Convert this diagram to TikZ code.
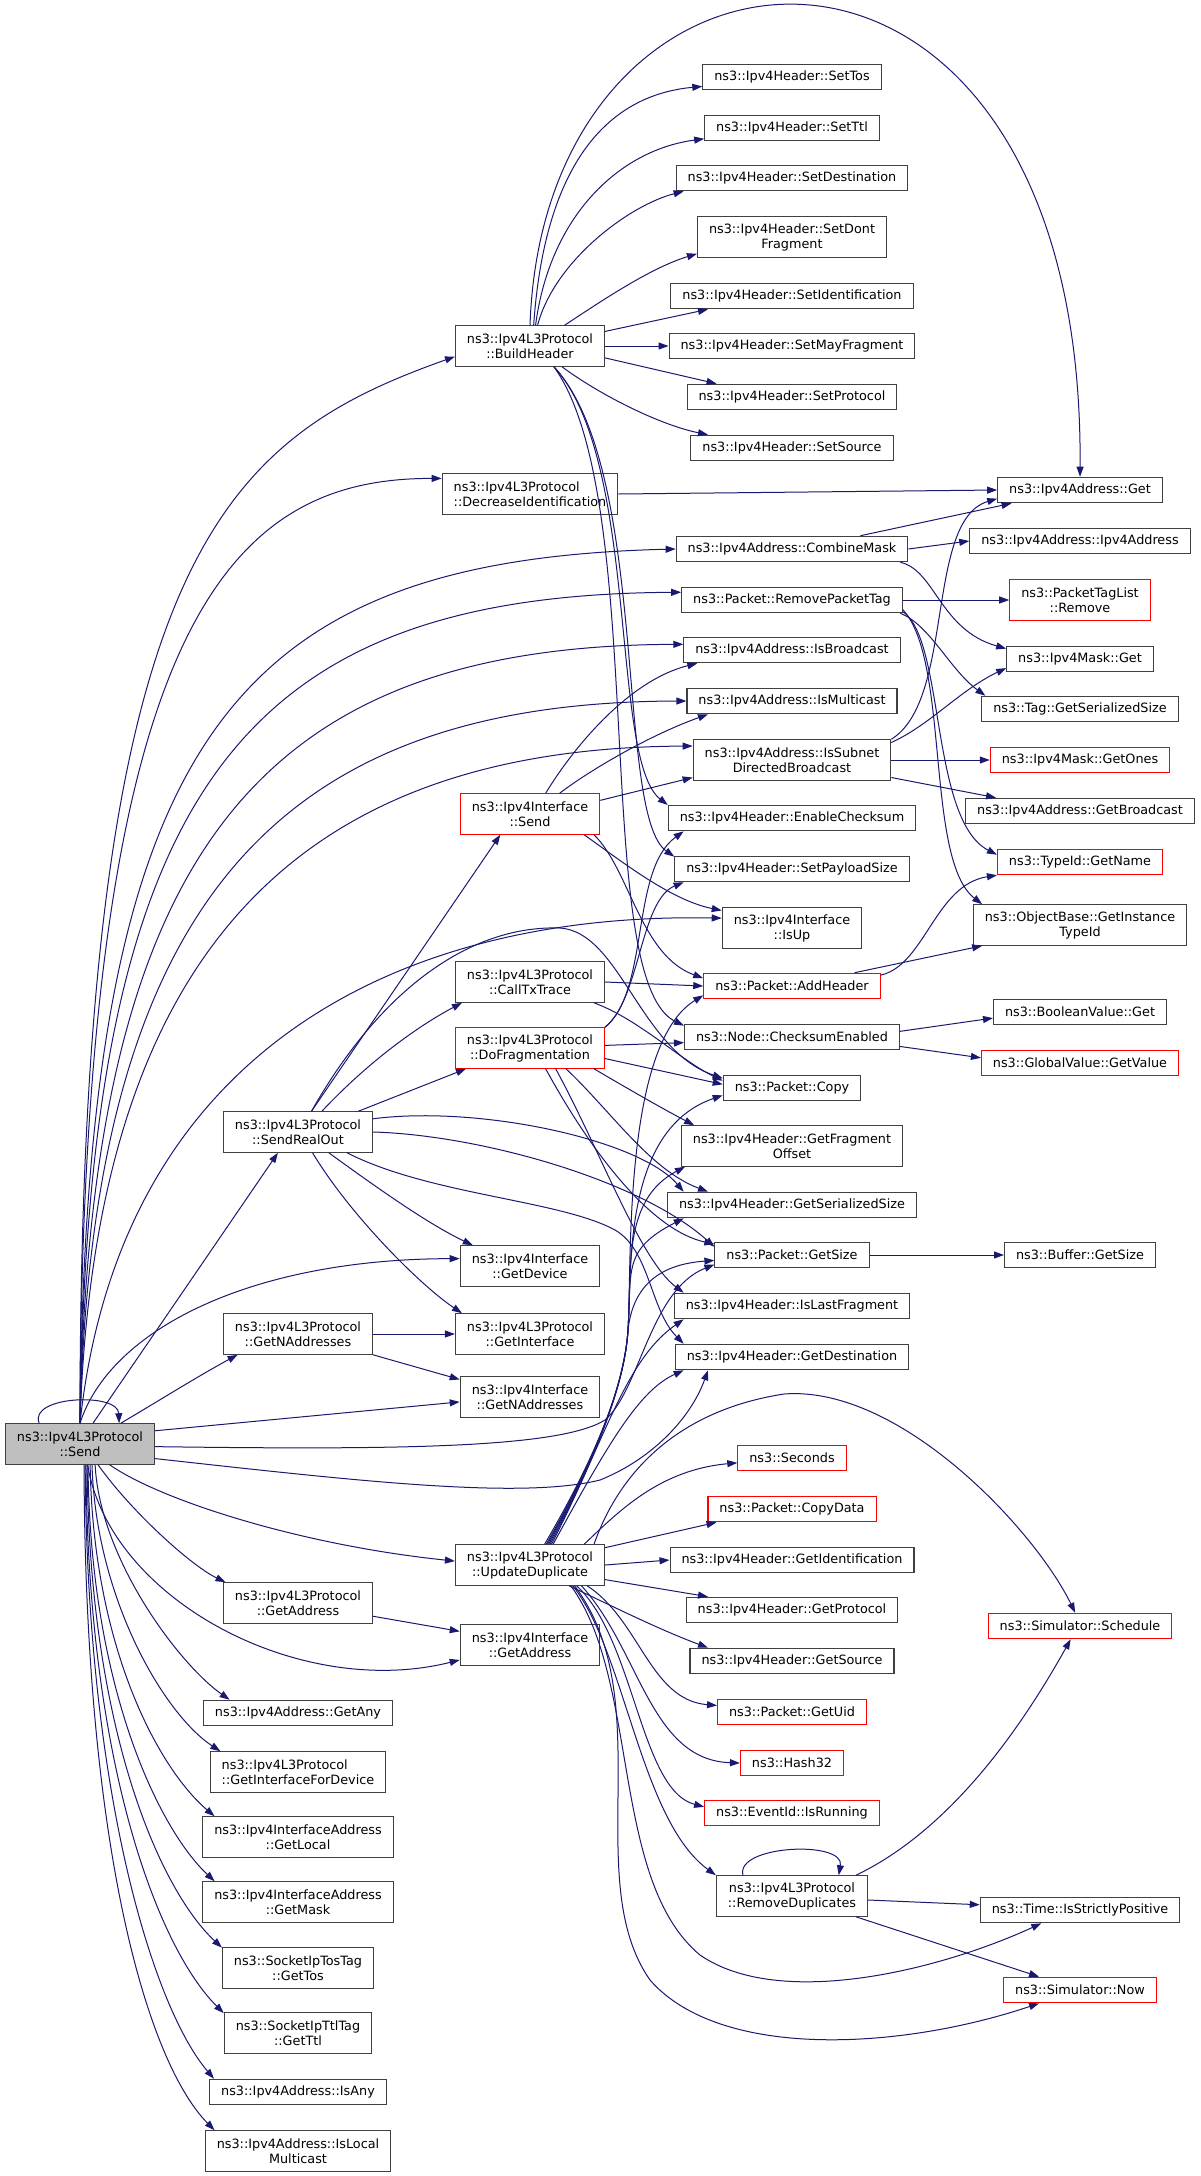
\documentclass[tikz,border=0pt]{standalone}
\usepackage{fontspec}
\usepackage{tikz}
\usetikzlibrary{arrows.meta}
\newfontfamily\dxfont{DejaVu Sans}
\definecolor{edgeblue}{RGB}{25,25,112}

\begin{document}
\begin{tikzpicture}[x=1pt,y=-1pt,
    fnbox/.style={draw=black!75, line width=1.1pt, fill=white, inner xsep=11.5pt, inner ysep=2pt,
      minimum height=25.5pt, align=center, font=\dxfont\fontsize{12.8}{15}\selectfont},
    twoline/.style={minimum height=40.5pt},
    cutbox/.style={fnbox, draw=red},
    rootbox/.style={fnbox, fill=black!25},
    call/.style={draw=edgeblue, line width=1pt, -{Triangle[length=10pt,width=7pt]}}]
\fill[white] (0,0) rectangle (1200,2176);
\useasboundingbox (0,0) rectangle (1200,2176);

% Caller
\node[rootbox, twoline] (send) at (80,1444) {ns3::Ipv4L3Protocol\\::Send};

% Column 2
\node[fnbox, twoline] (sendreal) at (298,1132) {ns3::Ipv4L3Protocol\\::SendRealOut};
\node[fnbox, twoline] (getnaddr) at (298,1334) {ns3::Ipv4L3Protocol\\::GetNAddresses};
\node[fnbox, twoline] (getaddr) at (298,1603) {ns3::Ipv4L3Protocol\\::GetAddress};
\node[fnbox] (getany) at (298,1713) {ns3::Ipv4Address::GetAny};
\node[fnbox, twoline, align=left] (ifacedev) at (298,1772) {ns3::Ipv4L3Protocol\\::GetInterfaceForDevice};
\node[fnbox, twoline] (getlocal) at (298,1837) {ns3::Ipv4InterfaceAddress\\::GetLocal};
\node[fnbox, twoline] (getmask) at (298,1902) {ns3::Ipv4InterfaceAddress\\::GetMask};
\node[fnbox, twoline] (gettos) at (298,1968) {ns3::SocketIpTosTag\\::GetTos};
\node[fnbox, twoline] (getttl) at (298,2033) {ns3::SocketIpTtlTag\\::GetTtl};
\node[fnbox] (isany) at (298,2092) {ns3::Ipv4Address::IsAny};
\node[fnbox, twoline] (islocal) at (298,2151) {ns3::Ipv4Address::IsLocal\\Multicast};

% Column 3
\node[fnbox, twoline] (buildhdr) at (530,346) {ns3::Ipv4L3Protocol\\::BuildHeader};
\node[fnbox, twoline, align=left] (decrid) at (530,494) {ns3::Ipv4L3Protocol\\::DecreaseIdentification};
\node[cutbox, twoline] (ifsend) at (530,814) {ns3::Ipv4Interface\\::Send};
\node[fnbox, twoline] (calltx) at (530,982) {ns3::Ipv4L3Protocol\\::CallTxTrace};
\node[cutbox, twoline] (dofrag) at (530,1048) {ns3::Ipv4L3Protocol\\::DoFragmentation};
\node[fnbox, twoline] (ifdev) at (530,1266) {ns3::Ipv4Interface\\::GetDevice};
\node[fnbox, twoline] (getiface) at (530,1334) {ns3::Ipv4L3Protocol\\::GetInterface};
\node[fnbox, twoline] (ifnaddr) at (530,1397) {ns3::Ipv4Interface\\::GetNAddresses};
\node[fnbox, twoline] (update) at (530,1565) {ns3::Ipv4L3Protocol\\::UpdateDuplicate};
\node[fnbox, twoline] (ifaddr) at (530,1645) {ns3::Ipv4Interface\\::GetAddress};

% Column 4
\node[fnbox] (settos) at (792,77) {ns3::Ipv4Header::SetTos};
\node[fnbox] (setttl) at (792,128) {ns3::Ipv4Header::SetTtl};
\node[fnbox] (setdest) at (792,178) {ns3::Ipv4Header::SetDestination};
\node[fnbox, twoline] (setdf) at (792,237) {ns3::Ipv4Header::SetDont\\Fragment};
\node[fnbox] (setid) at (792,296) {ns3::Ipv4Header::SetIdentification};
\node[fnbox] (setmf) at (792,346) {ns3::Ipv4Header::SetMayFragment};
\node[fnbox] (setproto) at (792,397) {ns3::Ipv4Header::SetProtocol};
\node[fnbox] (setsrc) at (792,448) {ns3::Ipv4Header::SetSource};
\node[fnbox] (combmask) at (792,549) {ns3::Ipv4Address::CombineMask};
\node[fnbox] (rmtag) at (792,600) {ns3::Packet::RemovePacketTag};
\node[fnbox] (isbcast) at (792,650) {ns3::Ipv4Address::IsBroadcast};
\node[fnbox] (ismcast) at (792,701) {ns3::Ipv4Address::IsMulticast};
\node[fnbox, twoline] (issubnet) at (792,760) {ns3::Ipv4Address::IsSubnet\\DirectedBroadcast};
\node[fnbox] (enchk) at (792,818) {ns3::Ipv4Header::EnableChecksum};
\node[fnbox] (setplen) at (792,869) {ns3::Ipv4Header::SetPayloadSize};
\node[fnbox, twoline] (isup) at (792,928) {ns3::Ipv4Interface\\::IsUp};
\node[cutbox] (addhdr) at (792,986) {ns3::Packet::AddHeader};
\node[fnbox] (chkon) at (792,1037) {ns3::Node::ChecksumEnabled};
\node[fnbox] (copy) at (792,1088) {ns3::Packet::Copy};
\node[fnbox, twoline] (fragoff) at (792,1146) {ns3::Ipv4Header::GetFragment\\Offset};
\node[fnbox] (sersize) at (792,1205) {ns3::Ipv4Header::GetSerializedSize};
\node[fnbox] (pktsize) at (792,1255) {ns3::Packet::GetSize};
\node[fnbox] (lastfrag) at (792,1306) {ns3::Ipv4Header::IsLastFragment};
\node[fnbox] (getdest) at (792,1357) {ns3::Ipv4Header::GetDestination};
\node[cutbox] (seconds) at (792,1458) {ns3::Seconds};
\node[cutbox] (copydata) at (792,1509) {ns3::Packet::CopyData};
\node[fnbox] (getid) at (792,1560) {ns3::Ipv4Header::GetIdentification};
\node[fnbox] (getproto) at (792,1610) {ns3::Ipv4Header::GetProtocol};
\node[fnbox] (getsrc) at (792,1661) {ns3::Ipv4Header::GetSource};
\node[cutbox] (getuid) at (792,1712) {ns3::Packet::GetUid};
\node[cutbox] (hash) at (792,1763) {ns3::Hash32};
\node[cutbox] (isrun) at (792,1813) {ns3::EventId::IsRunning};
\node[fnbox, twoline] (rmdup) at (792,1896) {ns3::Ipv4L3Protocol\\::RemoveDuplicates};

% Column 5
\node[fnbox] (addrget) at (1080,490) {ns3::Ipv4Address::Get};
\node[fnbox] (addrctor) at (1080,541) {ns3::Ipv4Address::Ipv4Address};
\node[cutbox, twoline] (tagrm) at (1080,600) {ns3::PacketTagList\\::Remove};
\node[fnbox] (maskget) at (1080,659) {ns3::Ipv4Mask::Get};
\node[fnbox] (taglen) at (1080,709) {ns3::Tag::GetSerializedSize};
\node[cutbox] (maskones) at (1080,760) {ns3::Ipv4Mask::GetOnes};
\node[fnbox] (getbcast) at (1080,811) {ns3::Ipv4Address::GetBroadcast};
\node[cutbox] (typename) at (1080,862) {ns3::TypeId::GetName};
\node[fnbox, twoline] (insttype) at (1080,925) {ns3::ObjectBase::GetInstance\\TypeId};
\node[fnbox] (boolget) at (1080,1012) {ns3::BooleanValue::Get};
\node[cutbox] (globget) at (1080,1063) {ns3::GlobalValue::GetValue};
\node[fnbox] (bufsize) at (1080,1255) {ns3::Buffer::GetSize};
\node[cutbox] (sched) at (1080,1626) {ns3::Simulator::Schedule};
\node[fnbox] (positive) at (1080,1910) {ns3::Time::IsStrictlyPositive};
\node[cutbox] (now) at (1080,1990) {ns3::Simulator::Now};

% Send: calls upwards
\draw[call] (send.153) .. controls (28,1396) and (118,1392) .. (send.28);
\draw[call] (send.north) .. controls (80,560) and (220,440) .. (buildhdr.188);
\draw[call] (send.north) .. controls (82,620) and (230,478) .. (decrid.170);
\draw[call] (send.north) .. controls (86,740) and (230,560) .. (combmask.west);
\draw[call] (send.north) .. controls (88,790) and (240,595) .. (rmtag.176);
\draw[call] (send.north) .. controls (90,850) and (260,646) .. (isbcast.177);
\draw[call] (send.north) .. controls (92,900) and (280,702) .. (ismcast.west);
\draw[call] (send.north) .. controls (95,950) and (300,748) .. (issubnet.172);
\draw[call] (send.north) .. controls (120,1050) and (400,912) .. (isup.172);
\draw[call] (send.north) .. controls (110,1330) and (250,1259) .. (ifdev.174);
\draw[call] (send.58) -- (sendreal.226);
\draw[call] (send.27) .. controls (160,1400) and (200,1375) .. (getnaddr.199);
% Send: calls to the right
\draw[call] (send.10) -- (ifnaddr.184);
\draw[call] (send.-2) .. controls (400,1450) and (560,1448) .. (605,1420)
  .. controls (640,1390) and (650,1290) .. (pktsize.187);
\draw[call] (send.-11) .. controls (350,1480) and (520,1500) .. (600,1480)
  .. controls (650,1460) and (690,1420) .. (getdest.189);
\draw[call] (send.-35) .. controls (160,1500) and (300,1545) .. (update.177);
\draw[call] (send.-49) .. controls (130,1510) and (190,1565) .. (getaddr.164);
\draw[call] (send.-70) .. controls (110,1600) and (300,1700) .. (ifaddr.192);
% Send: calls downwards
\foreach \dst/\out/\ax/\ay/\bx/\by/\in in {
    getany/-54/100/1560/180/1665/169,
    ifacedev/-60/96/1600/165/1715/165,
    getlocal/-64/93/1650/160/1770/166,
    getmask/-69/90/1690/160/1830/166,
    gettos/-71/89/1730/160/1890/165,
    getttl/-74/88/1770/160/1950/165,
    isany/-76/87/1800/155/2010/171,
    islocal/-79/85/1860/150/2065/166}
  \draw[call] (send.\out) .. controls (\ax,\ay) and (\bx,\by) .. (\dst.\in);

% BuildHeader
\draw[call] (buildhdr.north) .. controls (545,-110) and (1085,-140) .. (addrget.north);
\draw[call] (buildhdr.80) .. controls (545,160) and (610,95) .. (settos.186);
\draw[call] (buildhdr.75) .. controls (550,215) and (620,150) .. (setttl.187);
\draw[call] (buildhdr.70) .. controls (555,260) and (630,205) .. (setdest.187);
\draw[call] (buildhdr.31) .. controls (600,302) and (650,268) .. (setdf.190);
\draw[call] (buildhdr.11) -- (setid.189);
\draw[call] (buildhdr.east) -- (setmf.west);
\draw[call] (buildhdr.-9) -- (setproto.170);
\draw[call] (buildhdr.-33) .. controls (600,395) and (660,425) .. (setsrc.171);
\draw[call] (buildhdr.-41) .. controls (640,460) and (610,760) .. (enchk.174);
\draw[call] (buildhdr.-41) .. controls (650,470) and (615,815) .. (setplen.174);
\draw[call] (buildhdr.-41) .. controls (650,500) and (590,980) .. (chkon.174);

% DecreaseIdentification, CombineMask, RemovePacketTag
\draw[call] (decrid.east) -- (addrget.west);
\draw[call] (combmask.east) -- (addrctor.west);
\draw[call] (combmask.11) -- (addrget.191);
\draw[call] (combmask.-7) .. controls (935,570) and (940,630) .. (maskget.172);
\draw[call] (rmtag.east) -- (tagrm.west);
\draw[call] (rmtag.-7) .. controls (930,625) and (950,670) .. (taglen.172);
\draw[call] (rmtag.-6) .. controls (945,640) and (930,820) .. (typename.175);
\draw[call] (rmtag.-5) .. controls (950,660) and (925,860) .. (insttype.168);

% IsSubnetDirectedBroadcast
\draw[call] (issubnet.east) -- (maskones.west);
\draw[call] (issubnet.-10) -- (getbcast.171);
\draw[call] (issubnet.10) .. controls (930,725) and (960,690) .. (maskget.187);
\draw[call] (issubnet.north east) .. controls (955,700) and (925,520) .. (addrget.186);

% Ipv4Interface::Send
\draw[call] (ifsend.53) .. controls (575,745) and (630,680) .. (isbcast.188);
\draw[call] (ifsend.35) .. controls (590,770) and (650,735) .. (ismcast.189);
\draw[call] (ifsend.11) -- (issubnet.190);
\draw[call] (ifsend.-21) .. controls (620,860) and (670,900) .. (isup.166);
\draw[call] (ifsend.-18) .. controls (630,870) and (640,955) .. (addhdr.175);

% SendRealOut
\draw[call] (sendreal.57) -- (ifsend.215);
\draw[call] (sendreal.57) .. controls (380,990) and (470,925) .. (560,928)
  .. controls (620,932) and (640,1050) .. (copy.172);
\draw[call] (sendreal.41) .. controls (370,1060) and (420,1025) .. (calltx.197);
\draw[call] (sendreal.19) -- (dofrag.198);
\draw[call] (sendreal.-34) .. controls (380,1190) and (430,1225) .. (ifdev.160);
\draw[call] (sendreal.-55) .. controls (350,1215) and (420,1285) .. (getiface.163);
\draw[call] (sendreal.10) .. controls (480,1105) and (640,1140) .. (sersize.173);
\draw[call] (sendreal.east) .. controls (480,1135) and (640,1180) .. (pktsize.174);
\draw[call] (sendreal.-23) .. controls (430,1195) and (560,1200) .. (615,1230)
  .. controls (650,1250) and (650,1310) .. (getdest.173);

% GetNAddresses, GetAddress, CallTxTrace
\draw[call] (getnaddr.east) -- (getiface.west);
\draw[call] (getnaddr.south east) -- (ifnaddr.166);
\draw[call] (getaddr.-10) -- (ifaddr.169);
\draw[call] (calltx.east) -- (addhdr.west);
\draw[call] (calltx.-18) .. controls (640,1020) and (680,1060) .. (copy.174);

% DoFragmentation
\draw[call] (dofrag.north east) .. controls (650,990) and (630,870) .. (enchk.187);
\draw[call] (dofrag.north east) .. controls (640,1000) and (640,900) .. (setplen.187);
\draw[call] (dofrag.2) -- (chkon.183);
\draw[call] (dofrag.-8) -- (copy.177);
\draw[call] (dofrag.-18) .. controls (630,1090) and (665,1110) .. (fragoff.168);
\draw[call] (dofrag.-30) .. controls (610,1110) and (650,1170) .. (sersize.171);
\draw[call] (dofrag.-39) .. controls (600,1150) and (640,1260) .. (lastfrag.173);
\draw[call] (dofrag.-53) .. controls (590,1150) and (650,1230) .. (pktsize.172);

% AddHeader, ChecksumEnabled, GetSize
\draw[call] (addhdr.7) .. controls (925,965) and (935,885) .. (typename.189);
\draw[call] (addhdr.12) -- (insttype.192);
\draw[call] (chkon.3) -- (boolget.184);
\draw[call] (chkon.-5) -- (globget.177);
\draw[call] (pktsize.east) -- (bufsize.west);

% UpdateDuplicate
\foreach \dst/\out/\cy/\in in {copy/55/1130/186, addhdr/52/1045/186,
    fragoff/50/1200/191, sersize/48/1250/187}
  \draw[call] (update.\out) .. controls (600,1450) and (625,1380) .. (628,1330)
    .. controls (632,1270) and (622,\cy) .. (\dst.\in);
\draw[call] (update.46) .. controls (600,1450) and (625,1380) .. (628,1330)
  .. controls (632,1295) and (650,1265) .. (pktsize.184);
\draw[call] (update.44) .. controls (605,1440) and (625,1360) .. (lastfrag.187);
\draw[call] (update.42) .. controls (610,1440) and (640,1390) .. (getdest.187);
\draw[call] (update.18) .. controls (620,1470) and (680,1410) .. (784,1394)
  .. controls (900,1385) and (1035,1530) .. (sched.110);
\draw[call] (update.21) .. controls (620,1510) and (660,1470) .. (seconds.185);
\draw[call] (update.13) -- (copydata.190);
\draw[call] (update.east) -- (getid.west);
\draw[call] (update.-11) -- (getproto.171);
\draw[call] (update.-28) .. controls (610,1605) and (660,1630) .. (getsrc.171);
\draw[call] (update.-20) .. controls (640,1620) and (650,1700) .. (getuid.175);
\draw[call] (update.-22) .. controls (640,1650) and (650,1760) .. (hash.west);
\draw[call] (update.-24) .. controls (635,1640) and (640,1790) .. (isrun.176);
\draw[call] (update.-26) .. controls (625,1650) and (640,1820) .. (rmdup.north west);
\draw[call] (update.-27) .. controls (640,1680) and (610,1880) .. (700,1955)
  .. controls (780,2010) and (940,1970) .. (positive.199);
\draw[call] (update.-25) .. controls (660,1700) and (580,1880) .. (650,1980)
  .. controls (720,2060) and (900,2050) .. (now.198);

% RemoveDuplicates
\draw[call] (rmdup.157) .. controls (735,1845) and (845,1840) .. (rmdup.24);
\draw[call] (rmdup.18) .. controls (950,1830) and (1020,1730) .. (sched.235);
\draw[call] (rmdup.-3) -- (positive.177);
\draw[call] (rmdup.-18) -- (now.162);
\end{tikzpicture}
\end{document}
